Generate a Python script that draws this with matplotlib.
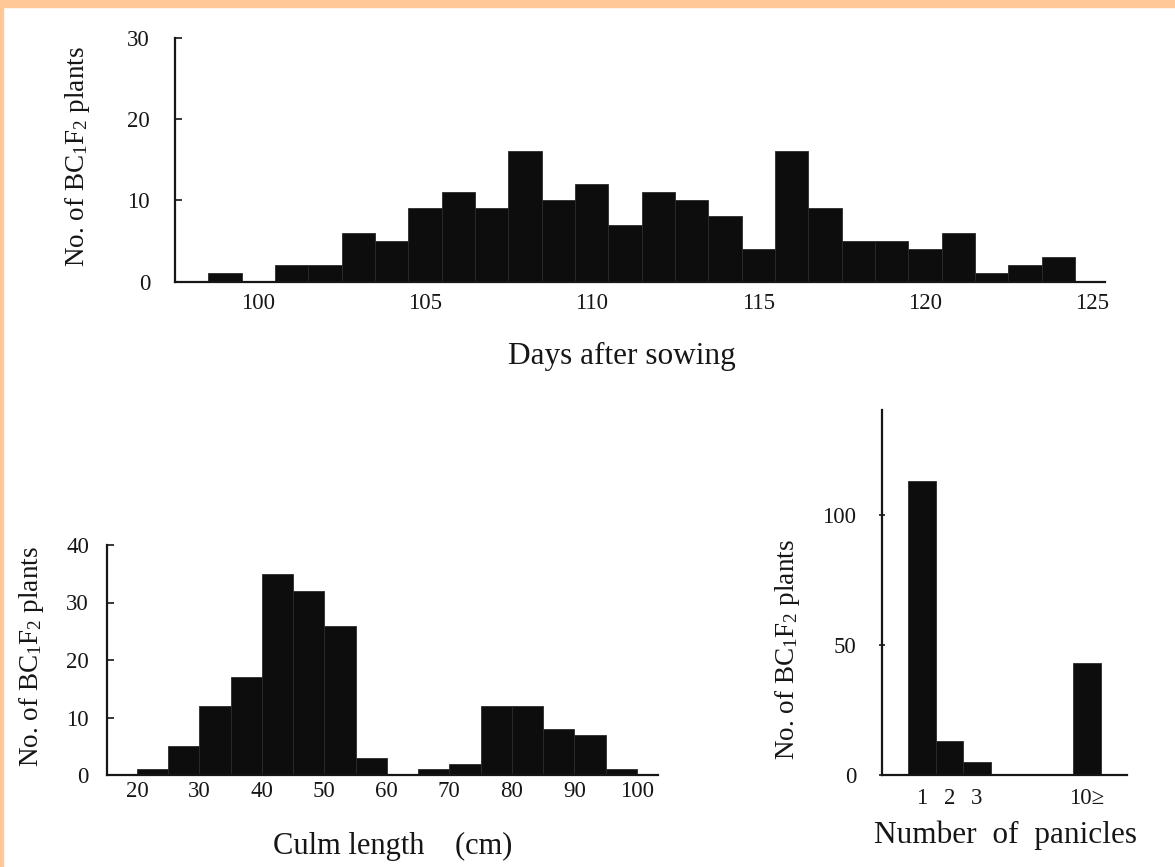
import numpy as np
import matplotlib
matplotlib.use("Agg")
import matplotlib.pyplot as plt

plt.rcParams['font.family'] = ['Liberation Serif', 'DejaVu Serif']
plt.rcParams['mathtext.default'] = 'regular'

# heading date distribution (days after sowing, one-day classes)
days = list(range(99, 125))
days_count = [1, 0, 2, 2, 6, 5, 9, 11, 9, 16, 10, 12, 7,
              11, 10, 8, 4, 16, 9, 5, 5, 4, 6, 1, 2, 3]
days_ticks = [100, 105, 110, 115, 120, 125]

# culm length distribution (5 cm classes, left edges)
culm_left = list(range(20, 100, 5))
culm_count = [1, 5, 12, 17, 35, 32, 26, 3, 0, 1, 2, 12, 12, 8, 7, 1]
culm_ticks = [20, 30, 40, 50, 60, 70, 80, 90, 100]

# number of panicles
pan_labels = ['1', '2', '3', '10≥']
pan_pos = [1, 2, 3, 7]
pan_count = [113, 13, 5, 43]

ylab = 'No. of BC$_1$F$_2$ plants'
bar_col = '#0d0d0d'
ink = '#161616'

W, H = 1175, 867
fig = plt.figure(figsize=(W / 100, H / 100), dpi=100)
fig.patch.set_facecolor('white')

# peach frame strips of the scanned page
fig.patches.append(plt.Rectangle((0, 1 - 7 / H), 1, 7 / H, transform=fig.transFigure,
                                 color='#ffc896', zorder=0))
fig.patches.append(plt.Rectangle((0, 0), 2.5 / W, 1, transform=fig.transFigure,
                                 color='#ffc896', zorder=0))


def box(x0, y0, x1, y1):
    # pixel box -> figure fraction
    return [x0 / W, 1 - y1 / H, (x1 - x0) / W, (y1 - y0) / H]


def style(ax, ypad, xpad, ydir='in'):
    for s in ['top', 'right']:
        ax.spines[s].set_visible(False)
    for s in ['left', 'bottom']:
        ax.spines[s].set_linewidth(1.6)
        ax.spines[s].set_color(ink)
    ax.tick_params(axis='y', direction=ydir, length=5, width=1.2, color=ink,
                   labelsize=16.5, pad=ypad, labelcolor=ink)
    ax.tick_params(axis='x', length=0, labelsize=16.5, pad=xpad, labelcolor=ink)


# top: days after sowing
ax1 = fig.add_axes(box(175, 37.5, 1105, 281.5))
ax1.bar(days, days_count, width=1.0, color=bar_col, edgecolor='#2b2b2b', linewidth=0.6)
ax1.set_xlim(97.5, 125.4)
ax1.set_ylim(0, 30)
ax1.set_yticks([0, 10, 20, 30])
ax1.set_xticks(days_ticks)
style(ax1, 18, 8)

# bottom left: culm length
ax2 = fig.add_axes(box(107, 545, 658, 775))
ax2.bar(culm_left, culm_count, width=5, align='edge', color=bar_col,
        edgecolor='#2b2b2b', linewidth=0.6)
ax2.set_xlim(15.2, 103.4)
ax2.set_ylim(0, 40)
ax2.set_yticks([0, 10, 20, 30, 40])
ax2.set_xticks(culm_ticks)
style(ax2, 13, 4)

# bottom right: number of panicles
ax3 = fig.add_axes(box(882, 410, 1127, 775))
ax3.bar(pan_pos, pan_count, width=1.0, color=bar_col, edgecolor='#2b2b2b', linewidth=0.6)
ax3.set_xlim(-0.45, 8.45)
ax3.set_ylim(0, 140.4)
ax3.set_yticks([0, 50, 100])
ax3.set_xticks(pan_pos)
ax3.set_xticklabels(pan_labels)
style(ax3, 16, 9, ydir='inout')

# axis titles
for x, y in [(77, 157), (32, 657), (788, 650)]:
    fig.text(x / W, 1 - y / H, ylab, rotation=90, ha='center', va='center',
             fontsize=19.5, color=ink)
fig.text(622 / W, 1 - 356 / H, 'Days after sowing', ha='center', va='center', fontsize=22.5, color=ink)
fig.text(393 / W, 1 - 846 / H, 'Culm length    (cm)', ha='center', va='center', fontsize=22, color=ink)
fig.text(1006 / W, 1 - 835 / H, 'Number  of  panicles', ha='center', va='center', fontsize=22.5, color=ink)

fig.savefig('out.png', dpi=100, facecolor='white')
